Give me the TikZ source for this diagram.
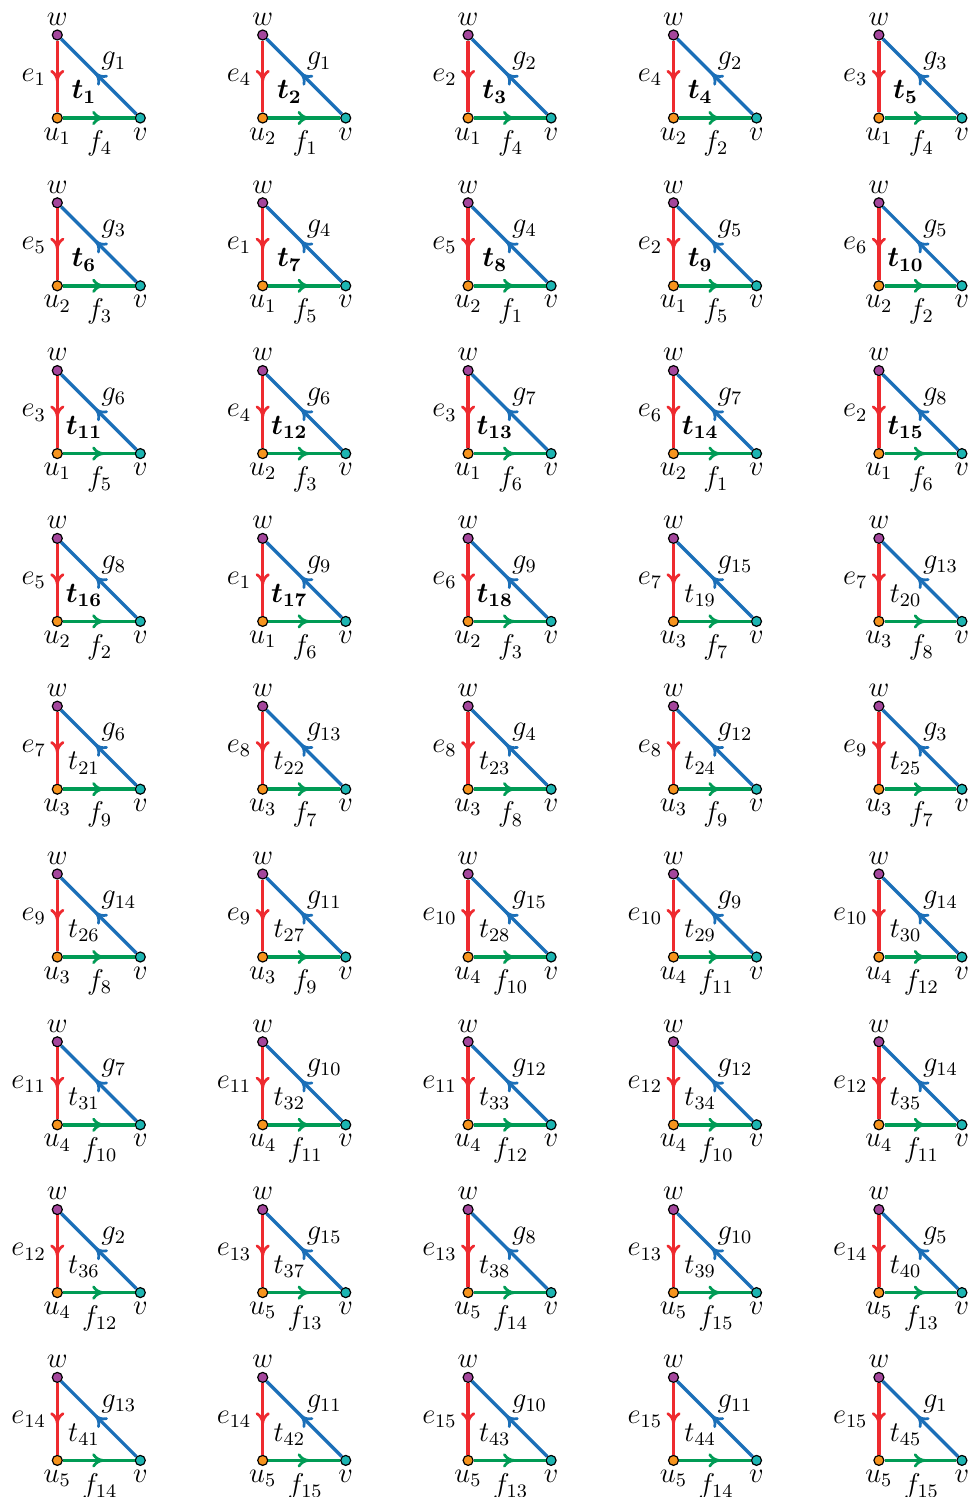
\documentclass[tikz,border=0pt]{standalone}
\usepackage{bm}
\usetikzlibrary{decorations.markings,calc}
\definecolor{cred}{HTML}{EE2A2F}
\definecolor{cgreen}{HTML}{009B55}
\definecolor{cblue}{HTML}{1B6FB8}
\definecolor{cpurple}{HTML}{A4469C}
\definecolor{corange}{HTML}{F7941D}
\definecolor{cteal}{HTML}{1CB5B2}
\newcommand\tlab[1]{\ifnum#1<19 \bm{t_{#1}}\else t_{#1}\fi}
\tikzset{
  vtx/.style={circle,draw=black,line width=0.5pt,inner sep=0pt,minimum size=4.2pt},
  vw/.style={vtx,fill=cpurple},
  vu/.style={vtx,fill=corange},
  vv/.style={vtx,fill=cteal},
  lbl/.style={inner sep=0pt,outer sep=0pt,font=\large},
  midarrow/.style={postaction={decorate,decoration={markings,mark=at position 0.5 with {
    \draw[#1,line width=1.15pt,line cap=round,line join=round]
      (-2.2pt,2.4pt) .. controls (-1.3pt,0.9pt) and (0.3pt,0.1pt) .. (1.8pt,0pt)
      .. controls (0.3pt,-0.1pt) and (-1.3pt,-0.9pt) .. (-2.2pt,-2.4pt);}}}},
  ered/.style={draw=cred,line width=1.4pt,midarrow=cred},
  egreen/.style={draw=cgreen,line width=1.5pt,midarrow=cgreen},
  eblue/.style={draw=cblue,line width=1.4pt,midarrow=cblue},
}
\begin{document}
\begin{tikzpicture}
\useasboundingbox (0,0) rectangle (409.08pt,-628.74pt);
\foreach \t/\e/\g/\u/\f in {
 1/1/1/1/4, 2/4/1/2/1, 3/2/2/1/4, 4/4/2/2/2, 5/3/3/1/4,
 6/5/3/2/3, 7/1/4/1/5, 8/5/4/2/1, 9/2/5/1/5, 10/6/5/2/2,
 11/3/6/1/5, 12/4/6/2/3, 13/3/7/1/6, 14/6/7/2/1, 15/2/8/1/6,
 16/5/8/2/2, 17/1/9/1/6, 18/6/9/2/3, 19/7/15/3/7, 20/7/13/3/8,
 21/7/6/3/9, 22/8/13/3/7, 23/8/4/3/8, 24/8/12/3/9, 25/9/3/3/7,
 26/9/14/3/8, 27/9/11/3/9, 28/10/15/4/10, 29/10/9/4/11, 30/10/14/4/12,
 31/11/7/4/10, 32/11/10/4/11, 33/11/12/4/12, 34/12/12/4/10, 35/12/14/4/11,
 36/12/2/4/12, 37/13/15/5/13, 38/13/8/5/14, 39/13/10/5/15, 40/14/5/5/13,
 41/14/13/5/14, 42/14/11/5/15, 43/15/10/5/13, 44/15/11/5/14, 45/15/1/5/15}{
  \pgfmathtruncatemacro\rr{(\t-1)/5}
  \pgfmathtruncatemacro\cc{\t-1-5*\rr}
  \pgfmathsetmacro\wx{0.42*(57.3+205.4*\cc)}
  \pgfmathsetmacro\wy{-0.42*(35+167.8*\rr)}
  \pgfmathsetmacro\uy{\wy-0.42*83}
  \pgfmathsetmacro\vx{\wx+0.42*83}
  \node[vw] (w\t) at (\wx pt,\wy pt) {};
  \node[vu] (u\t) at (\wx pt,\uy pt) {};
  \node[vv] (v\t) at (\vx pt,\uy pt) {};
  \draw[ered] (w\t) -- node[lbl,anchor=east,xshift=-4.8pt,yshift=-0.3pt] (le\t) {$e_{\e}$} (u\t);
  \draw[egreen] (u\t) -- node[lbl,anchor=north,xshift=0.4pt,yshift=-5.4pt] (lf\t) {$f_{\f}$} (v\t);
  \draw[eblue] (v\t) -- node[lbl,anchor=south west,xshift=1.1pt,yshift=2.6pt] (lg\t) {$g_{\g}$} (w\t);
  \node[lbl,anchor=south] (lw\t) at ($(w\t.center)+(0,4.1pt)$) {$w$};
  \node[lbl,anchor=north] (lu\t) at ($(u\t.center)+(0,-4.1pt)$) {$u_{\u}$};
  \node[lbl,anchor=north] (lv\t) at ($(v\t.center)+(0,-4.1pt)$) {$v$};
  \node[lbl] (lt\t) at ($(u\t.center)+(11.2pt,10.9pt)$) {$\tlab{\t}$};
}
\end{tikzpicture}
\end{document}
